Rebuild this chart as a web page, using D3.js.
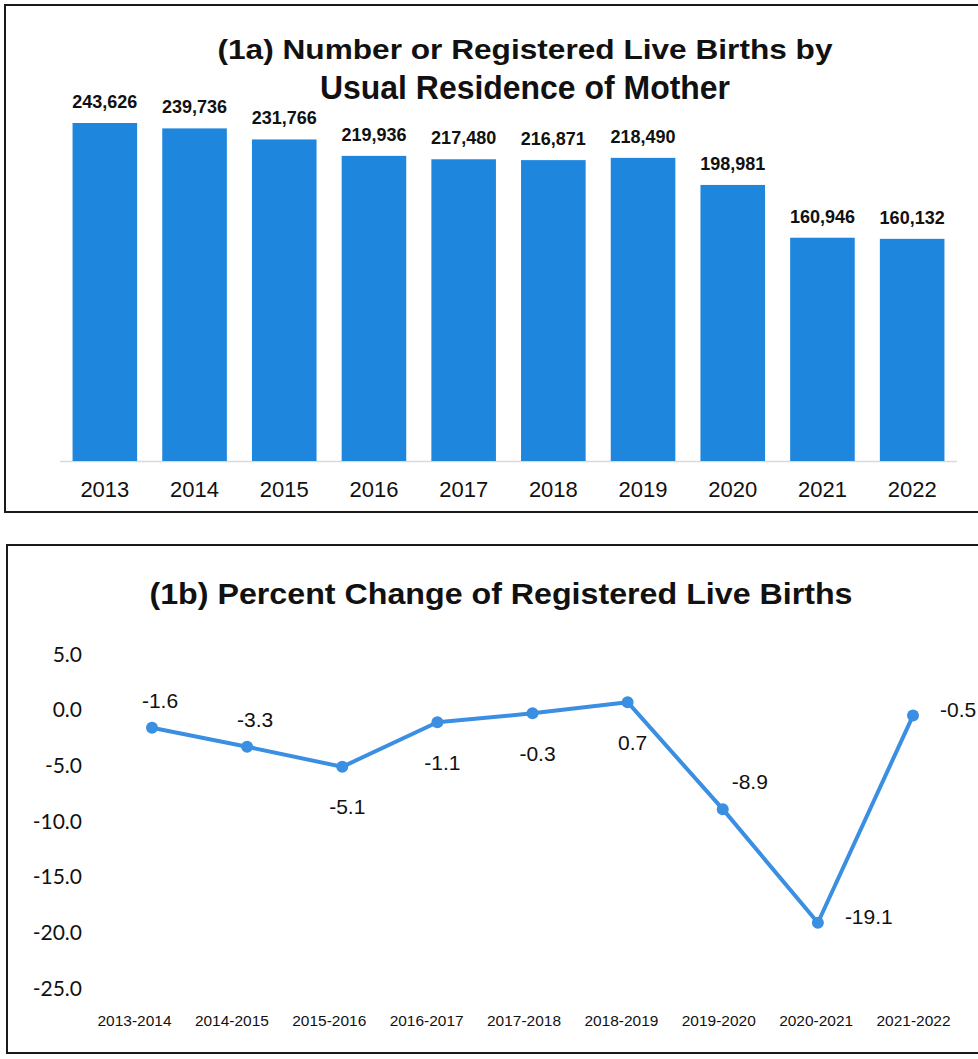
<!DOCTYPE html>
<html lang="en">
<head>
	<meta charset="utf-8">
	<title>Registered Live Births</title>
	<script src="https://d3js.org/d3.v7.min.js"></script>
	<style type="text/css">
		body {
			margin: 0;
			background: #fff;
		}

		/* Panels */
		.panel {
			fill: none;
			stroke: #1a1a1a;
			stroke-width: 2;
		}

		.title {
			font-family: "Liberation Sans Narrow", "Arial Narrow", "Liberation Sans", sans-serif;
			font-weight: bold;
			fill: #111;
		}

		/* Bars */
		.bar {
			fill: #1f86dd;
		}

		.bar-label {
			font-family: "Liberation Sans", Arial, sans-serif;
			font-weight: bold;
			font-size: 18px;
			fill: #111;
		}

		.x-year text {
			font-family: "Liberation Sans", Arial, sans-serif;
			font-size: 22px;
			fill: #111;
		}

		/* Line chart */
		.line {
			fill: none;
			stroke: #3a8fe2;
			stroke-width: 4;
			stroke-linejoin: round;
		}

		.dot {
			fill: #3a8fe2;
		}

		.pct-label {
			font-family: "Liberation Sans", Arial, sans-serif;
			font-size: 21px;
			fill: #111;
		}

		.y-pct text {
			font-family: Lato, "Open Sans", sans-serif;
			font-size: 21px;
			fill: #111;
		}

		.x-period text {
			font-family: "Liberation Sans", Arial, sans-serif;
			font-size: 15px;
			fill: #111;
		}

		path.domain,
		.tick line {
			display: none;
		}
	</style>
</head>
<body>
	<div id="vis"></div>

	<script type="text/javascript">

		/* Data */
		/* ==== */

		const years = ["2013", "2014", "2015", "2016", "2017", "2018", "2019", "2020", "2021", "2022"];
		const births = [243626, 239736, 231766, 219936, 217480, 216871, 218490, 198981, 160946, 160132];

		const periods = ["2013-2014", "2014-2015", "2015-2016", "2016-2017", "2017-2018",
			"2018-2019", "2019-2020", "2020-2021", "2021-2022"];
		const pctChange = [-1.6, -3.3, -5.1, -1.1, -0.3, 0.7, -8.9, -19.1, -0.5];
		const pctTicks = [5, 0, -5, -10, -15, -20, -25];

		// where each data label sits relative to its point
		const labelSide = ["above", "above", "below", "below", "below", "below", "aboveRight", "right", "right"];


		/* Set up */
		/* ====== */

		var width = 978,
			height = 1059;

		// plain hyphen for negatives, like the original
		var fmt1 = function (d) { return d.toFixed(1); };

		var svg = d3.select('#vis')
			.append('svg')
			.attr('width', width)
			.attr('height', height);

		// panel frames (the right side runs off the page)
		svg.append('rect').attr('class', 'panel')
			.attr('x', 5).attr('y', 5).attr('width', 1000).attr('height', 507);
		svg.append('rect').attr('class', 'panel')
			.attr('x', 7).attr('y', 545).attr('width', 1000).attr('height', 508);


		/* (1a) Bars */
		/* ========= */

		var gBars = svg.append('g').attr('class', 'chart-a');

		gBars.append('text').attr('class', 'title')
			.attr('x', 525).attr('y', 59)
			.attr('text-anchor', 'middle')
			.style('font-size', '28px')
			.attr('textLength', 615).attr('lengthAdjust', 'spacingAndGlyphs')
			.text('(1a) Number or Registered Live Births by');

		gBars.append('text').attr('class', 'title')
			.attr('x', 525).attr('y', 99)
			.attr('text-anchor', 'middle')
			.style('font-size', '33px')
			.attr('textLength', 410).attr('lengthAdjust', 'spacingAndGlyphs')
			.text('Usual Residence of Mother');

		var xBar = d3.scaleBand()
			.domain(years)
			.range([60, 957])
			.paddingInner(0.28)
			.paddingOuter(0.14);

		var yBar = d3.scaleLinear()
			.domain([0, 250000])
			.range([461, 461 - 338 * 250000 / 243626]);

		gBars.append('line')
			.attr('x1', 60).attr('x2', 957)
			.attr('y1', yBar(0) + 0.5).attr('y2', yBar(0) + 0.5)
			.style('stroke', '#d9d9d9')
			.style('stroke-width', 1.5);

		var barData = years.map(function (y, i) { return { year: y, value: births[i] }; });

		gBars.selectAll('.bar')
			.data(barData).enter()
			.append('rect')
			.attr('class', 'bar')
			.attr('x', function (d) { return xBar(d.year); })
			.attr('width', xBar.bandwidth())
			.attr('y', function (d) { return yBar(d.value); })
			.attr('height', function (d) { return yBar(0) - yBar(d.value); });

		gBars.selectAll('.bar-label')
			.data(barData).enter()
			.append('text')
			.attr('class', 'bar-label')
			.attr('x', function (d) { return xBar(d.year) + xBar.bandwidth() / 2; })
			.attr('y', function (d) { return yBar(d.value) - 15; })
			.attr('text-anchor', 'middle')
			.text(function (d) { return d3.format(',')(d.value); });

		gBars.append('g')
			.attr('class', 'x-year')
			.attr('transform', 'translate(0,' + yBar(0) + ')')
			.call(d3.axisBottom(xBar).tickSize(0).tickPadding(20));


		/* (1b) Line */
		/* ========= */

		var gLine = svg.append('g').attr('class', 'chart-b');

		gLine.append('text').attr('class', 'title')
			.attr('x', 501).attr('y', 604)
			.attr('text-anchor', 'middle')
			.style('font-size', '30px')
			.attr('textLength', 703).attr('lengthAdjust', 'spacingAndGlyphs')
			.text('(1b) Percent Change of Registered Live Births');

		var xPct = d3.scalePoint()
			.domain(periods)
			.range([152, 913]);

		// the category labels sit on a slightly wider spacing than the points
		var xPctLabel = d3.scalePoint()
			.domain(periods)
			.range([134, 913]);

		var yPct = d3.scaleLinear()
			.domain([-25, 5])
			.range([710 + 25 * 11.14, 710 - 5 * 11.14]);

		gLine.append('g')
			.attr('class', 'y-pct')
			.attr('transform', 'translate(82,0)')
			.call(d3.axisLeft(yPct).tickValues(pctTicks).tickSize(0).tickPadding(0)
				.tickFormat(fmt1));

		gLine.append('g')
			.attr('class', 'x-period')
			.attr('transform', 'translate(0,1005)')
			.call(d3.axisBottom(xPctLabel).tickSize(0).tickPadding(10));

		gLine.selectAll('.x-period text')
			.attr('textLength', 74)
			.attr('lengthAdjust', 'spacingAndGlyphs');

		var lineData = periods.map(function (p, i) {
			return { period: p, value: pctChange[i], side: labelSide[i] };
		});

		var line = d3.line()
			.x(function (d) { return xPct(d.period); })
			.y(function (d) { return yPct(d.value); });

		gLine.append('path')
			.datum(lineData)
			.attr('class', 'line')
			.attr('d', line);

		gLine.selectAll('.dot')
			.data(lineData).enter()
			.append('circle')
			.attr('class', 'dot')
			.attr('cx', function (d) { return xPct(d.period); })
			.attr('cy', function (d) { return yPct(d.value); })
			.attr('r', 6);

		var offsets = {
			above: { dx: 8, dy: -27, anchor: 'middle' },
			below: { dx: 5, dy: 40, anchor: 'middle' },
			aboveRight: { dx: 27, dy: -27, anchor: 'middle' },
			right: { dx: 27, dy: -6, anchor: 'start' }
		};

		gLine.selectAll('.pct-label')
			.data(lineData).enter()
			.append('text')
			.attr('class', 'pct-label')
			.attr('x', function (d) { return xPct(d.period) + offsets[d.side].dx; })
			.attr('y', function (d) { return yPct(d.value) + offsets[d.side].dy; })
			.attr('dy', '0.35em')
			.attr('text-anchor', function (d) { return offsets[d.side].anchor; })
			.text(function (d) { return fmt1(d.value); });

	</script>
</body>
</html>
